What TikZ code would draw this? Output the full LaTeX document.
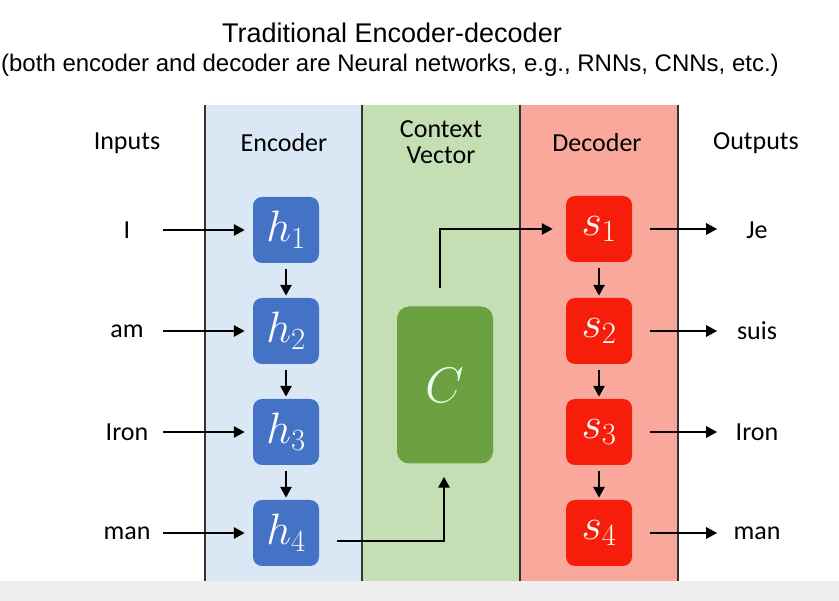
\RequirePackage{fix-cm}
\documentclass[tikz,border=0pt]{standalone}
\usepackage{fontspec}
\setmainfont{Carlito}
\newfontfamily\titlefont{Liberation Sans}
\usetikzlibrary{arrows.meta}
\definecolor{encbg}{HTML}{DAE8F5}
\definecolor{ctxbg}{HTML}{C5DFB4}
\definecolor{decbg}{HTML}{F9A89B}
\definecolor{hblue}{HTML}{4472C4}
\definecolor{cgreen}{HTML}{6BA140}
\definecolor{sred}{HTML}{F61E0A}
\definecolor{strip}{HTML}{EFEFEF}
\tikzset{
  lbl/.style={font=\fontsize{26}{29}\selectfont, text=black},
  hbox/.style={fill=hblue, rounded corners=9pt, minimum width=66pt, minimum height=66pt, text=white, inner sep=0pt, font=\fontsize{44}{46}\selectfont},
  sbox/.style={fill=sred, rounded corners=9pt, minimum width=66pt, minimum height=66pt, text=white, inner sep=0pt, font=\fontsize{44}{46}\selectfont},
  cbox/.style={fill=cgreen, rounded corners=12pt, minimum width=96pt, minimum height=157pt, text=white!92!green, inner sep=0pt, font=\fontsize{50}{52}\selectfont},
  arr/.style={line width=2.8pt, -{Triangle[length=11pt,width=11pt]}},
  bandline/.style={line width=1.1pt, draw=black!80},
}
\begin{document}
\begin{tikzpicture}[x=1pt,y=-1pt]
\useasboundingbox (0,0) rectangle (839,601);
\fill[white] (0,0) rectangle (839,601);
\fill[strip] (0,581) rectangle (839,601);
\fill[encbg] (205,105) rectangle (362,581);
\fill[ctxbg] (362,105) rectangle (520,581);
\fill[decbg] (520,105) rectangle (678,581);
\foreach \xx in {205,362,520,678} \draw[bandline] (\xx,105) -- (\xx,581);

\node[font=\titlefont\fontsize{27}{30}\selectfont] (title) at (392,33) {Traditional Encoder-decoder};
\node[font=\titlefont\fontsize{24}{28}\selectfont] (subtitle) at (390,65) {(both encoder and decoder are Neural networks, e.g., RNNs, CNNs, etc.)};

\node[lbl] (hin) at (127,143) {Inputs};
\node[lbl] (henc) at (284,143) {Encoder};
\node[lbl, align=center] (hctx) at (441,142) {Context\\[-3pt]Vector};
\node[lbl] (hdec) at (597,143) {Decoder};
\node[lbl] (hout) at (756,143) {Outputs};

\node[hbox] (h1) at (286,230) {$h_1$};
\node[hbox] (h2) at (286,331) {$h_2$};
\node[hbox] (h3) at (286,432) {$h_3$};
\node[hbox] (h4) at (286,533) {$h_4$};

\node[sbox] (s1) at (599,229) {$s_1$};
\node[sbox] (s2) at (599,331) {$s_2$};
\node[sbox] (s3) at (599,432) {$s_3$};
\node[sbox] (s4) at (599,533) {$s_4$};

\node[cbox] (c) at (445,385) {$C$};

\node[lbl] (i1) at (127,230) {I};
\node[lbl] (i2) at (127,331) {am};
\node[lbl] (i3) at (127,432) {Iron};
\node[lbl] (i4) at (127,533) {man};

\node[lbl] (o1) at (757,230) {Je};
\node[lbl] (o2) at (757,331) {suis};
\node[lbl] (o3) at (757,432) {Iron};
\node[lbl] (o4) at (757,533) {man};

\foreach \k in {1,...,4} {
  \coordinate (ia\k) at (163,0 |- h\k.west);
  \draw[arr, shorten >=8pt] (ia\k) -- (h\k.west);
  \draw[arr, shorten <=18pt] (s\k.east) -- ++(85pt,0) coordinate (oa\k);
}
\foreach \a/\b in {h1/h2,h2/h3,h3/h4,s1/s2,s2/s3,s3/s4}
  \draw[arr, shorten <=6pt, shorten >=2pt] (\a.south) -- (\b.north);

\coordinate (cb) at (444,541);
\coordinate (cs) at (337,541);
\draw[arr, shorten >=13pt] (cs) -- (cb) -- (c.south -| cb);
\coordinate (ct) at (440,229);
\coordinate (cst) at (440,288);
\draw[arr, shorten >=13pt] (cst) -- (ct) -- (s1.west);
\end{tikzpicture}
\end{document}
